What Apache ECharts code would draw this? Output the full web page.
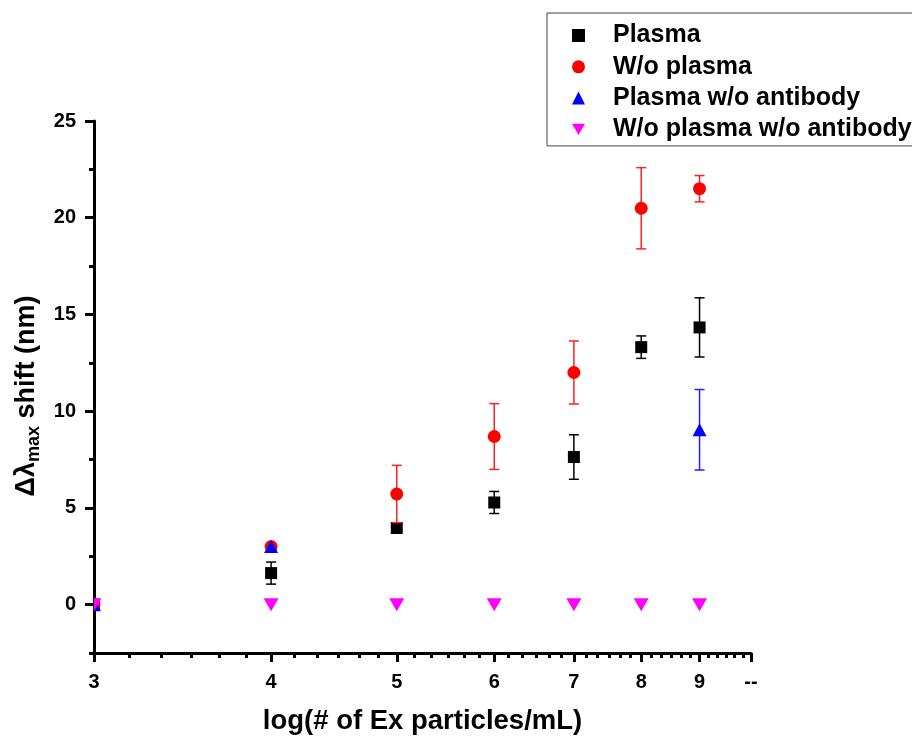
<!DOCTYPE html>
<html>
<head>
<meta charset="utf-8">
<script src="https://cdn.jsdelivr.net/npm/echarts@6/dist/echarts.min.js"></script>
<style>
  html, body { margin: 0; padding: 0; background: #ffffff; }
  #chart { width: 912px; height: 740px; }
</style>
</head>
<body>
<div id="chart"></div>
<script>
// Concentration positions on the log axis and the printed tick labels
const xPositions = [2, 3, 4, 5, 6, 7, 8];
const xTickValues = [2, 3, 4, 5, 6, 7, 8, 9];
const xTickLabels = ['3', '4', '5', '6', '7', '8', '9', '--'];
const yTickValues = [0, 5, 10, 15, 20, 25];
const yMinorTickValues = [-2.5, 2.5, 7.5, 12.5, 17.5, 22.5];

// Δλmax shift (nm) with standard deviations
const plasma = [0, 1.63, 3.96, 5.28, 7.63, 13.31, 14.33];
const plasmaErr = [0, 0.57, 0, 0.57, 1.15, 0.58, 1.53];
const noPlasma = [0, 3.0, 5.72, 8.69, 12.0, 20.49, 21.5];
const noPlasmaErr = [0, 0, 1.48, 1.7, 1.63, 2.1, 0.68];
const plasmaNoAb = [0, 3.0, null, null, null, null, 9.04];
const plasmaNoAbErr = [0, 0, null, null, null, null, 2.08];
const noPlasmaNoAb = [0, 0, 0, 0, 0, 0, 0];
const noPlasmaNoAbErr = [0, 0, 0, 0, 0, 0, 0];

const FONT = 'Liberation Sans, Arial, sans-serif';

// five minor ticks inside each major interval
const xMinorTickValues = [];
for (let i = 0; i < xTickValues.length - 1; i++) {
  const a = xTickValues[i], b = xTickValues[i + 1];
  for (let k = 1; k <= 5; k++) xMinorTickValues.push(a + (b - a) * k / 6);
}

function rows(values, errs) {
  return xPositions
    .map((x, i) => values[i] == null ? null : [x, values[i], errs[i] || 0])
    .filter(Boolean);
}

// marker shapes centred on (cx, cy)
function marker(kind, cx, cy, color) {
  const style = { fill: color, stroke: null };
  if (kind === 'square') {
    return { type: 'rect', shape: { x: cx - 6, y: cy - 6, width: 12, height: 12 }, style: style };
  }
  if (kind === 'circle') {
    return { type: 'circle', shape: { cx: cx, cy: cy, r: 6.5 }, style: style };
  }
  if (kind === 'up') {
    return { type: 'polygon', shape: { points: [[cx, cy - 6.5], [cx + 7, cy + 6.5], [cx - 7, cy + 6.5]] }, style: style };
  }
  return { type: 'polygon', shape: { points: [[cx - 7.5, cy - 6.5], [cx + 7.5, cy - 6.5], [cx, cy + 6.5]] }, style: style };
}

// one series = error bars (when present) + markers, clipped to the plot area
function pointSeries(name, values, errs, kind, color, barColor) {
  return {
    name: name,
    type: 'custom',
    xAxisIndex: 0,
    yAxisIndex: 0,
    clip: true,
    itemStyle: { color: color },
    encode: { x: 0, y: 1 },
    data: rows(values, errs),
    renderItem: function (params, api) {
      const x = api.value(0), y = api.value(1), e = api.value(2);
      const c = api.coord([x, y]);
      const children = [];
      if (e > 0) {
        const top = api.coord([x, y + e]);
        const bot = api.coord([x, y - e]);
        const half = 5;
        const s = { stroke: barColor, lineWidth: 1.5, fill: null };
        children.push(
          { type: 'line', shape: { x1: top[0], y1: top[1], x2: bot[0], y2: bot[1] }, style: s },
          { type: 'line', shape: { x1: top[0] - half, y1: top[1], x2: top[0] + half, y2: top[1] }, style: s },
          { type: 'line', shape: { x1: bot[0] - half, y1: bot[1], x2: bot[0] + half, y2: bot[1] }, style: s }
        );
      }
      children.push(marker(kind, c[0], c[1], color));
      return { type: 'group', children: children };
    }
  };
}

const chart = echarts.init(document.getElementById('chart'), null, { renderer: 'canvas' });

const axisLabelStyle = { fontFamily: FONT, fontWeight: 'bold', fontSize: 20, color: '#000' };

chart.setOption({
  animation: false,
  backgroundColor: '#ffffff',
  grid: { left: 94, right: 161, top: 121, bottom: 86, containLabel: false },
  legend: {
    orient: 'vertical',
    left: 547,
    top: 13,
    padding: [10, 12, 4, 25],
    itemGap: 6.3,
    itemWidth: 13,
    itemHeight: 13,
    borderColor: '#444',
    borderWidth: 1,
    textStyle: { fontFamily: FONT, fontWeight: 'bold', fontSize: 25, color: '#000', padding: [0, 0, 0, 23] },
    data: [
      { name: 'Plasma', icon: 'rect', itemStyle: { color: '#000000' } },
      { name: 'W/o plasma', icon: 'circle', itemStyle: { color: '#ff0000' } },
      { name: 'Plasma w/o antibody', icon: 'triangle', itemStyle: { color: '#0000ff' } },
      { name: 'W/o plasma w/o antibody', icon: 'path://M0,0L15,0L7.5,13Z', itemStyle: { color: '#ff00ff' } }
    ]
  },
  xAxis: [
    {
      type: 'log',
      logBase: 10,
      min: 2,
      max: 9,
      position: 'bottom',
      name: 'log(# of Ex particles/mL)',
      nameLocation: 'middle',
      nameGap: 54,
      nameTextStyle: { fontFamily: FONT, fontWeight: 'bold', fontSize: 27.5, color: '#000' },
      axisLine: { show: true, onZero: false, lineStyle: { color: '#000', width: 3 } },
      axisTick: { show: true, inside: false, length: 9, customValues: xTickValues, lineStyle: { color: '#000', width: 3 } },
      axisLabel: {
        show: true,
        margin: 19,
        customValues: xTickValues,
        formatter: function (v) {
          const i = xTickValues.findIndex(t => Math.abs(t - v) < 1e-6);
          return i >= 0 ? xTickLabels[i] : '';
        },
        ...axisLabelStyle
      },
      splitLine: { show: false },
      minorTick: { show: false },
      minorSplitLine: { show: false }
    },
    {
      type: 'log',
      logBase: 10,
      min: 2,
      max: 9,
      position: 'bottom',
      axisLine: { show: false, onZero: false },
      axisTick: { show: true, inside: false, length: 5, customValues: xMinorTickValues, lineStyle: { color: '#000', width: 3 } },
      axisLabel: { show: false },
      splitLine: { show: false }
    }
  ],
  yAxis: [
    {
      type: 'value',
      min: -2.5,
      max: 25,
      position: 'left',
      name: '{b|Δλ}{s|max}{b| shift (nm)}',
      nameLocation: 'middle',
      nameGap: 44,
      nameRotate: 90,
      nameTextStyle: {
        padding: [0, 18, 0, 0],
        rich: {
          b: { fontFamily: FONT, fontWeight: 'bold', fontSize: 27, color: '#000', lineHeight: 30, verticalAlign: 'top' },
          s: { fontFamily: FONT, fontWeight: 'bold', fontSize: 18, color: '#000', lineHeight: 18, padding: [16, 0, 0, 0], verticalAlign: 'bottom' }
        }
      },
      axisLine: { show: true, onZero: false, lineStyle: { color: '#000', width: 3 } },
      axisTick: { show: true, inside: false, length: 9, customValues: yTickValues, lineStyle: { color: '#000', width: 3 } },
      axisLabel: { show: true, margin: 18, customValues: yTickValues, ...axisLabelStyle },
      splitLine: { show: false }
    },
    {
      type: 'value',
      min: -2.5,
      max: 25,
      position: 'left',
      axisLine: { show: false, onZero: false },
      axisTick: { show: true, inside: false, length: 5, customValues: yMinorTickValues, lineStyle: { color: '#000', width: 3 } },
      axisLabel: { show: false },
      splitLine: { show: false }
    }
  ],
  series: [
    pointSeries('Plasma', plasma, plasmaErr, 'square', '#000000', '#000000'),
    pointSeries('W/o plasma', noPlasma, noPlasmaErr, 'circle', '#ff0000', '#ff2020'),
    pointSeries('Plasma w/o antibody', plasmaNoAb, plasmaNoAbErr, 'up', '#0000ff', '#2020ff'),
    pointSeries('W/o plasma w/o antibody', noPlasmaNoAb, noPlasmaNoAbErr, 'down', '#ff00ff', '#ff00ff')
  ]
});
</script>
</body>
</html>
